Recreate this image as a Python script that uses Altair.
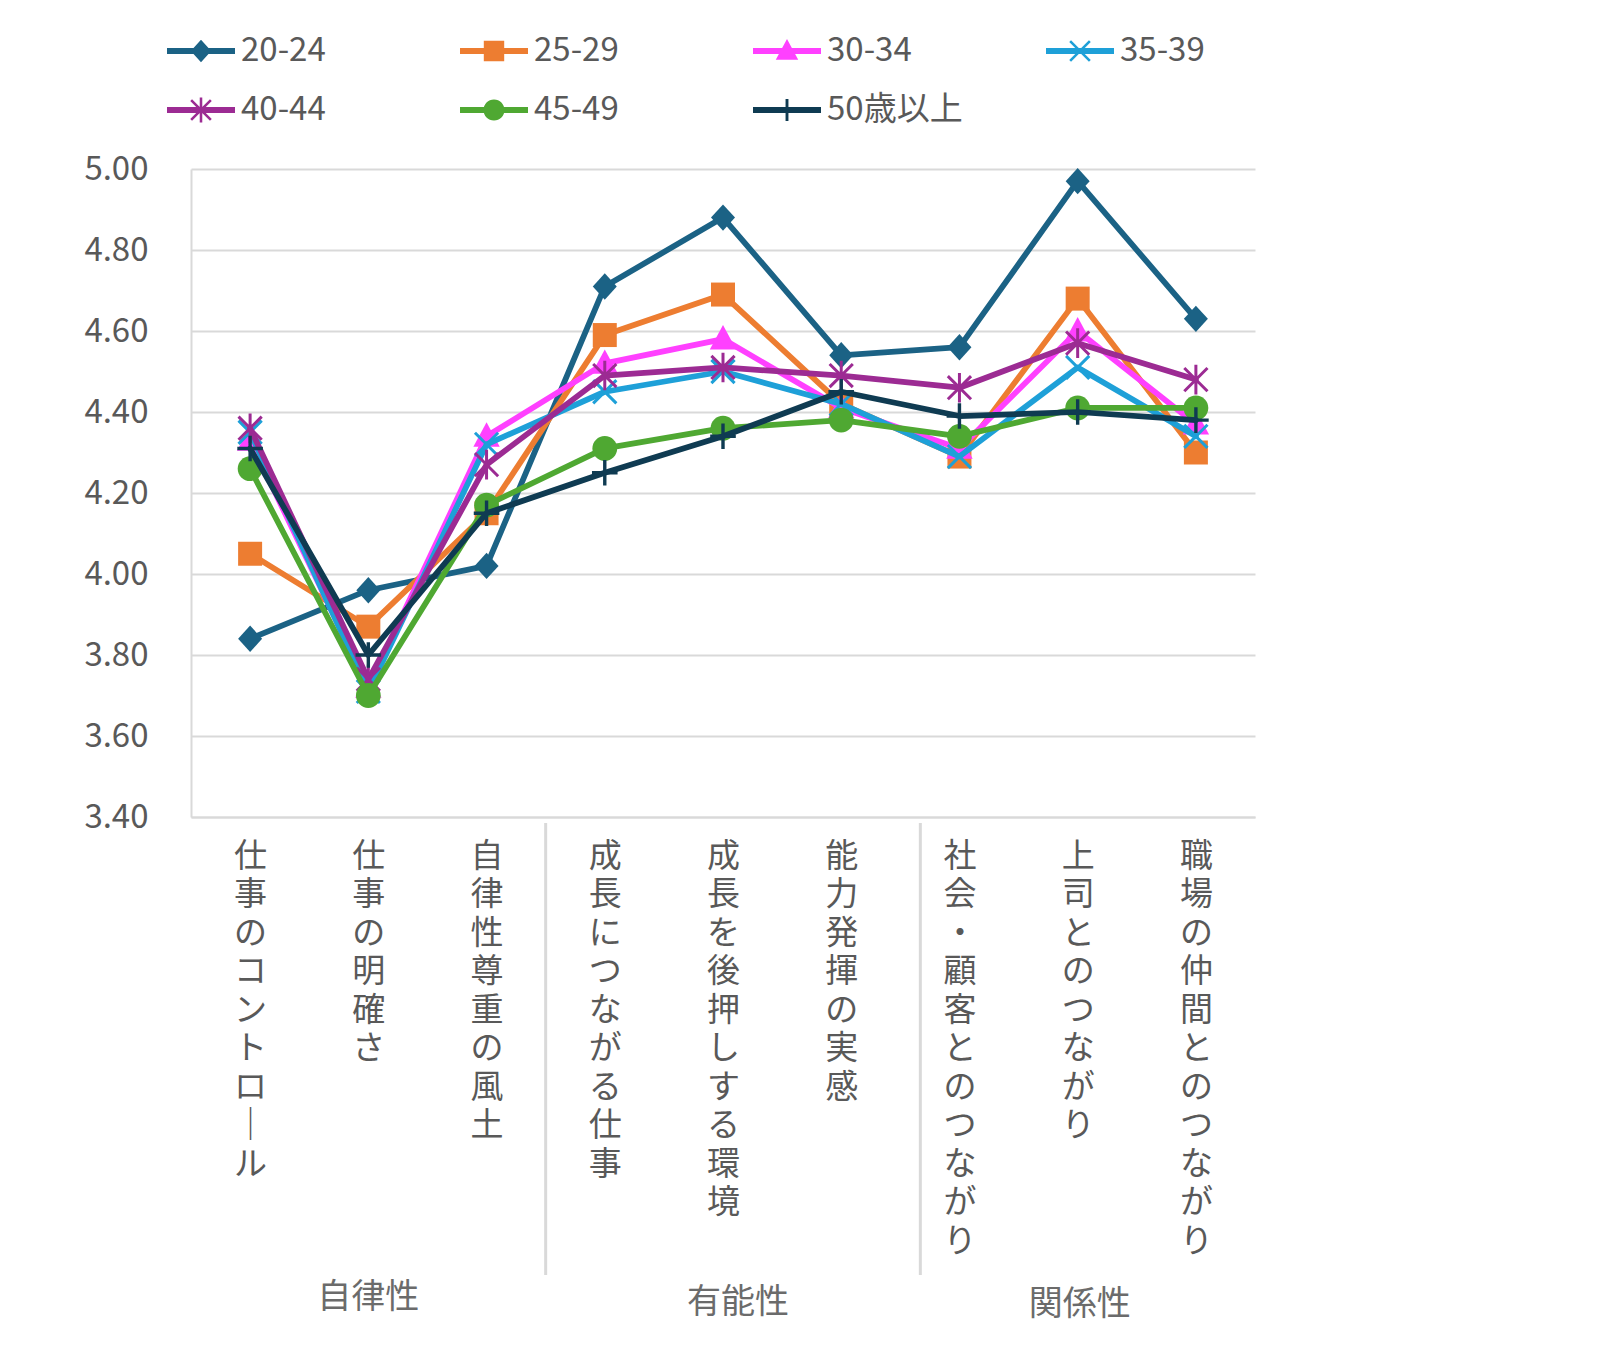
import altair as alt
import pandas as pd

# ---------------- data ----------------
categories = [
    "仕事のコントロール", "仕事の明確さ", "自律性尊重の風土",
    "成長につながる仕事", "成長を後押しする環境", "能力発揮の実感",
    "社会・顧客とのつながり", "上司とのつながり", "職場の仲間とのつながり",
]
series = ["20-24", "25-29", "30-34", "35-39", "40-44", "45-49", "50歳以上"]

v_20_24 = [3.84, 3.96, 4.02, 4.71, 4.88, 4.54, 4.56, 4.97, 4.63]
v_25_29 = [4.05, 3.87, 4.15, 4.59, 4.69, 4.42, 4.29, 4.68, 4.30]
v_30_34 = [4.33, 3.72, 4.34, 4.52, 4.58, 4.41, 4.31, 4.60, 4.37]
v_35_39 = [4.35, 3.71, 4.32, 4.45, 4.50, 4.42, 4.29, 4.51, 4.34]
v_40_44 = [4.36, 3.74, 4.27, 4.49, 4.51, 4.49, 4.46, 4.57, 4.48]
v_45_49 = [4.26, 3.70, 4.17, 4.31, 4.36, 4.38, 4.34, 4.41, 4.41]
v_50_up = [4.31, 3.80, 4.15, 4.25, 4.34, 4.45, 4.39, 4.40, 4.38]
values = [v_20_24, v_25_29, v_30_34, v_35_39, v_40_44, v_45_49, v_50_up]

colors = ["#1b6285", "#ed7d31", "#ff40ff", "#1ea0d8", "#9c2b93", "#4fa832", "#0f3b52"]

y_ticks = [3.40, 3.60, 3.80, 4.00, 4.20, 4.40, 4.60, 4.80, 5.00]

groups = ["自律性", "有能性", "関係性"]
group_anchor = ["仕事の明確さ", "成長を後押しする環境", "上司とのつながり"]

# ---------------- layout / style ----------------
W, H = 1064, 648
step = W / len(categories)
FONT = "Noto Sans CJK JP"
GRAY = "#595959"
GRID = "#d9d9d9"

rows = []
for s, vals in zip(series, values):
    for c, v in zip(categories, vals):
        rows.append({"series": s, "category": c, "value": v})
df = pd.DataFrame(rows)


# marker shapes (unit square [-1,1]); all polygons wound the same way
def poly(pts):
    area = sum(pts[i][0] * pts[(i + 1) % len(pts)][1] - pts[(i + 1) % len(pts)][0] * pts[i][1]
               for i in range(len(pts)))
    if area < 0:
        pts = pts[::-1]
    return "M" + "L".join(f"{x:.3f},{y:.3f}" for x, y in pts) + "Z"


def bar(x1, y1, x2, y2, t):
    dx, dy = x2 - x1, y2 - y1
    n = (dx * dx + dy * dy) ** 0.5
    nx, ny = -dy / n * t, dx / n * t
    return poly([(x1 + nx, y1 + ny), (x2 + nx, y2 + ny), (x2 - nx, y2 - ny), (x1 - nx, y1 - ny)])


r = 0.62
circle = f"M{-r},0A{r},{r} 0 1,1 {r},0A{r},{r} 0 1,1 {-r},0Z"
markers = [
    poly([(0, -0.66), (0.6, 0), (0, 0.66), (-0.6, 0)]),                   # diamond
    poly([(-0.6, -0.6), (0.6, -0.6), (0.6, 0.6), (-0.6, 0.6)]),           # square
    poly([(0, -0.7), (0.66, 0.52), (-0.66, 0.52)]),                       # triangle
    bar(-0.58, -0.58, 0.58, 0.58, 0.075) + bar(-0.58, 0.58, 0.58, -0.58, 0.075),   # x
    bar(-0.58, -0.58, 0.58, 0.58, 0.075) + bar(-0.58, 0.58, 0.58, -0.58, 0.075)
    + bar(0, -0.74, 0, 0.74, 0.075),                                      # asterisk
    circle,                                                               # circle
    bar(0, -0.64, 0, 0.64, 0.085) + bar(-0.64, 0, 0.64, 0, 0.085),       # plus
]
legend_line = poly([(-2, -0.17), (2, -0.17), (2, 0.17), (-2, 0.17)])
legend_paths = [legend_line + m for m in markers]

x_enc = alt.X(
    "category:N",
    sort=categories,
    scale=alt.Scale(type="point", domain=categories, padding=0.5),
    axis=alt.Axis(
        title=None, labelAngle=0,
        labelExpr="split(replace(datum.label, 'ー', '｜'), '')",
        labelFont=FONT, labelFontSize=33, labelLineHeight=38.5, labelColor=GRAY,
        labelPadding=23, labelBaseline="top", labelOverlap=False, labelLimit=1000,
        ticks=False, domain=True, domainColor=GRID, domainWidth=2, grid=False,
    ),
)
y_enc = alt.Y(
    "value:Q",
    scale=alt.Scale(domain=[3.4, 5.0], nice=False, zero=False),
    axis=alt.Axis(
        title=None, values=y_ticks, format=".2f",
        labelFont=FONT, labelFontSize=33, labelColor=GRAY, labelPadding=43,
        ticks=False, domain=True, domainColor=GRID, domainWidth=2,
        grid=True, gridColor=GRID, gridWidth=2,
    ),
)

layers = []
base = alt.Chart(df)
for s, m, col in zip(series, markers, colors):
    sub = base.transform_filter(alt.datum.series == s)
    layers.append(
        sub.mark_line(color=col, strokeWidth=5.75, strokeJoin="round", strokeCap="round")
        .encode(x=x_enc, y=y_enc, detail="series:N")
    )
    layers.append(
        sub.mark_point(shape=m, filled=True, size=1600, opacity=1, strokeWidth=0, color=col)
        .encode(x=x_enc, y=y_enc)
    )

# group separators
for cat, extra in [(categories[2], 0), (categories[5], 20)]:
    layers.append(
        alt.Chart(pd.DataFrame({"category": [cat]}))
        .mark_rule(color=GRID, strokeWidth=3, xOffset=step / 2 + extra)
        .encode(x=x_enc, y=alt.value(H + 6), y2=alt.value(H + 458))
    )

# group labels
for g, a, dx, dy in zip(groups, group_anchor, [0, 15, 2], [481, 486, 488]):
    layers.append(
        alt.Chart(pd.DataFrame({"category": [a], "group": [g]}))
        .mark_text(font=FONT, fontSize=34, color="#6b6b6b", align="center", baseline="middle", dx=dx)
        .encode(x=x_enc, y=alt.value(H + dy), text="group:N")
    )

# legend (line + marker symbols)
leg = alt.Legend(
    title=None, orient="none", legendX=-7, legendY=-135, columns=4, gridAlign="all",
    direction="horizontal",
    symbolSize=1156, symbolStrokeWidth=0, symbolOpacity=1,
    labelFont=FONT, labelFontSize=33, labelColor=GRAY, labelOffset=23, labelLimit=400,
    columnPadding=83, rowPadding=25,
)
layers.append(
    alt.Chart(pd.DataFrame({"series": series}))
    .transform_filter("false")
    .mark_point(filled=True, opacity=1)
    .encode(
        color=alt.Color("series:N", scale=alt.Scale(domain=series, range=colors), legend=leg),
        shape=alt.Shape("series:N", scale=alt.Scale(domain=series, range=legend_paths), legend=leg),
    )
)

chart = (
    alt.layer(*layers)
    .properties(
        width=W, height=H,
        padding={"left": 183, "top": 161, "right": 340, "bottom": 520},
        autosize=alt.AutoSizeParams(type="none"),
        background="white",
    )
    .configure_view(stroke=None)
)

chart.save("out.html", embed_options={"renderer": "svg", "actions": False})
